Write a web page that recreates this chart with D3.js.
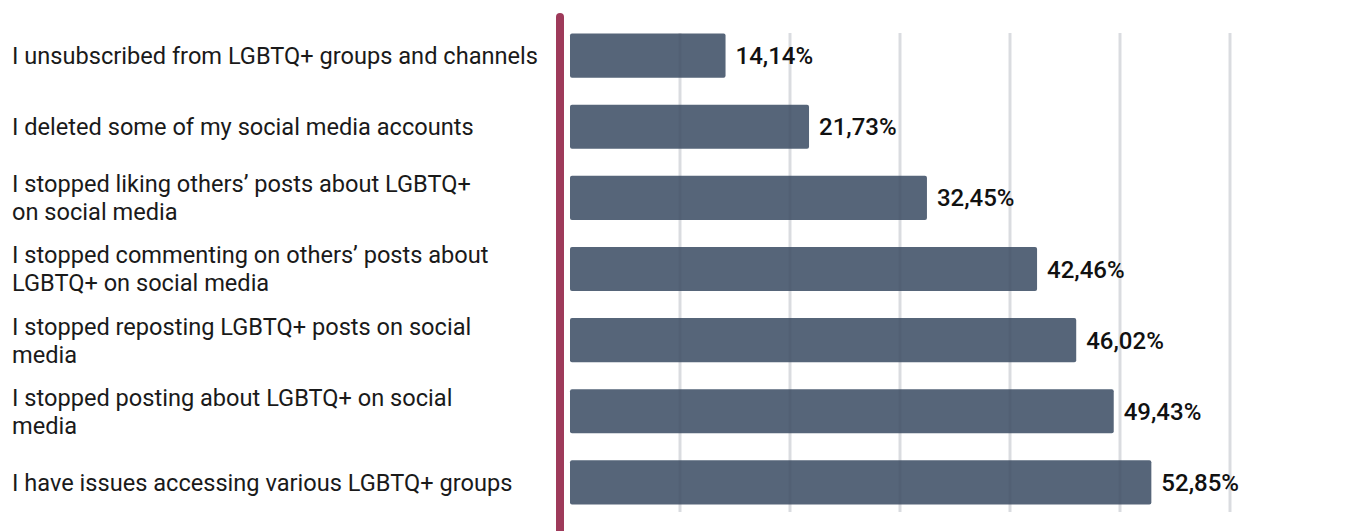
<!DOCTYPE html>
<html>
<head>
<meta charset="utf-8">
<script src="https://cdn.jsdelivr.net/npm/d3@7"></script>
<style>
  html, body { margin: 0; padding: 0; background: #ffffff; }
  svg { display: block; }
  text { font-family: Roboto, "Noto Sans", sans-serif; }
</style>
</head>
<body>
<svg id="chart" width="1351" height="531"></svg>
<script>
// Survey responses: actions taken on social media
const categories = [
  ["I unsubscribed from LGBTQ+ groups and channels"],
  ["I deleted some of my social media accounts"],
  ["I stopped liking others’ posts about LGBTQ+", "on social media"],
  ["I stopped commenting on others’ posts about", "LGBTQ+ on social media"],
  ["I stopped reposting LGBTQ+ posts on social", "media"],
  ["I stopped posting about LGBTQ+ on social", "media"],
  ["I have issues accessing various LGBTQ+ groups"]
];
const values = [14.14, 21.73, 32.45, 42.46, 46.02, 49.43, 52.85];
const valueLabels = ["14,14%", "21,73%", "32,45%", "42,46%", "46,02%", "49,43%", "52,85%"];
const gridTicks = [10, 20, 30, 40, 50, 60];

const svg = d3.select("#chart");
const keys = categories.map((c, i) => i);

const x = d3.scaleLinear().domain([0, 60]).range([570, 1230]);
const y = d3.scaleBand()
  .domain(keys)
  .range([20, 518])
  .paddingInner(0.38)
  .paddingOuter(0.19);

// bars
svg.append("g")
  .selectAll("rect")
  .data(values)
  .join("rect")
  .attr("x", x(0))
  .attr("y", (d, i) => y(i))
  .attr("width", d => x(d) - x(0))
  .attr("height", y.bandwidth())
  .attr("rx", 2)
  .attr("fill", "#566579");

// vertical gridlines, drawn over the bars
svg.append("g")
  .selectAll("line")
  .data(gridTicks)
  .join("line")
  .attr("x1", d => x(d))
  .attr("x2", d => x(d))
  .attr("y1", 33)
  .attr("y2", 512)
  .attr("stroke", "rgba(70,80,100,0.2)")
  .attr("stroke-width", 3);

// value labels
svg.append("g")
  .selectAll("text")
  .data(values)
  .join("text")
  .attr("x", d => x(d) + 10)
  .attr("y", (d, i) => y(i) + y.bandwidth() / 2)
  .attr("dy", "0.36em")
  .attr("font-size", 24)
  .attr("font-weight", 500)
  .attr("fill", "#111111")
  .text((d, i) => valueLabels[i]);

// category labels (one or two lines, centred on the bar)
const lineH = 28;
const lab = svg.append("g")
  .selectAll("text")
  .data(categories)
  .join("text")
  .attr("x", 12)
  .attr("y", (d, i) => y(i) + y.bandwidth() / 2 - (d.length - 1) * lineH / 2)
  .attr("font-size", 23.6)
  .attr("fill", "#1a1a1a");
lab.selectAll("tspan")
  .data(d => d)
  .join("tspan")
  .attr("x", 12)
  .attr("dy", (d, j) => j === 0 ? "0.36em" : lineH)
  .text(d => d);

// left axis rule
svg.append("line")
  .attr("x1", 560).attr("x2", 560)
  .attr("y1", 17).attr("y2", 540)
  .attr("stroke", "#9e3a5a")
  .attr("stroke-width", 8)
  .attr("stroke-linecap", "round");
</script>
</body>
</html>
